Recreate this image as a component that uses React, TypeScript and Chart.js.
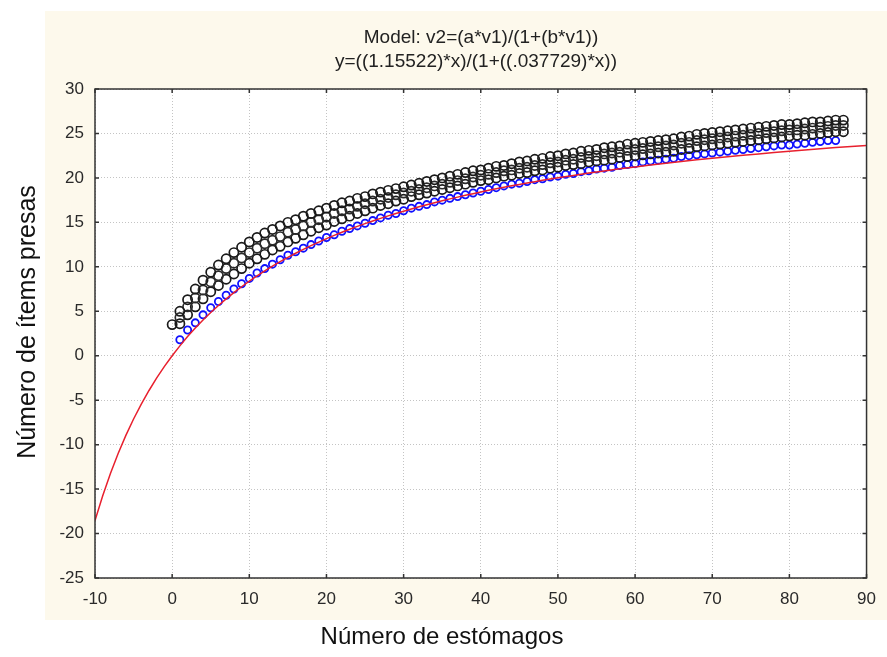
import { useEffect, useRef } from "react";
import { Chart, registerables } from "chart.js";
Chart.register(...registerables);

const titleLines = ["Model: v2=(a*v1)/(1+(b*v1))", "y=((1.15522)*x)/(1+((.037729)*x))"];
const xTitle = "Número de estómagos";
const yTitle = "Número de ítems presas";

// fitted model curve
const fitX = [-10, -9, -8, -7, -6, -5, -4, -3, -2, -1, 0, 1, 2, 3, 4, 5, 6, 7, 8, 9, 10, 11, 12, 13, 14, 15, 16, 17, 18, 19, 20, 21, 22, 23, 24, 25, 26, 27, 28, 29, 30, 31, 32, 33, 34, 35, 36, 37, 38, 39, 40, 41, 42, 43, 44, 45, 46, 47, 48, 49, 50, 52, 54, 56, 58, 60, 62, 64, 66, 68, 70, 72, 74, 76, 78, 80, 82, 84, 86, 88, 90];
const fitY = [-18.55, -15.74, -13.24, -10.99, -8.96, -7.12, -5.44, -3.91, -2.5, -1.2, 0, 1.11, 2.15, 3.11, 4.02, 4.86, 5.65, 6.4, 7.1, 7.76, 8.39, 8.98, 9.54, 10.08, 10.58, 11.07, 11.53, 11.96, 12.38, 12.78, 13.17, 13.54, 13.89, 14.23, 14.55, 14.86, 15.16, 15.45, 15.73, 16.0, 16.26, 16.51, 16.75, 16.98, 17.21, 17.42, 17.64, 17.84, 18.04, 18.23, 18.42, 18.6, 18.77, 18.94, 19.11, 19.27, 19.43, 19.58, 19.73, 19.87, 20.01, 20.28, 20.54, 20.78, 21.02, 21.24, 21.45, 21.65, 21.85, 22.03, 22.21, 22.38, 22.54, 22.7, 22.85, 23.0, 23.14, 23.28, 23.41, 23.53, 23.65];

// blue observed points, x = 1 .. 86
const blueStart = 1;
const blueY = [1.8, 2.9, 3.7, 4.6, 5.4, 6.1, 6.8, 7.5, 8.1, 8.7, 9.3, 9.8, 10.3, 10.8, 11.3, 11.7, 12.1, 12.5, 12.9, 13.3, 13.6, 14.0, 14.3, 14.6, 14.9, 15.2, 15.5, 15.8, 16.0, 16.3, 16.6, 16.8, 17.0, 17.3, 17.5, 17.7, 17.9, 18.1, 18.3, 18.5, 18.7, 18.9, 19.1, 19.3, 19.4, 19.6, 19.8, 19.9, 20.1, 20.2, 20.4, 20.5, 20.7, 20.8, 21.0, 21.1, 21.2, 21.4, 21.5, 21.6, 21.8, 21.9, 22.0, 22.1, 22.2, 22.4, 22.5, 22.6, 22.7, 22.8, 22.9, 23.0, 23.1, 23.2, 23.3, 23.4, 23.5, 23.6, 23.7, 23.7, 23.8, 23.9, 24.0, 24.1, 24.2, 24.2];

// black randomised curves: upper x = 0..87, middle/lower x = 1..87
const blackAStart = 0;
const blackA = [3.5, 5.0, 6.3, 7.5, 8.5, 9.4, 10.2, 10.9, 11.6, 12.2, 12.8, 13.3, 13.8, 14.2, 14.6, 15.0, 15.3, 15.7, 16.0, 16.3, 16.6, 16.9, 17.2, 17.4, 17.7, 17.9, 18.2, 18.4, 18.6, 18.8, 19.0, 19.2, 19.4, 19.6, 19.8, 20.0, 20.2, 20.4, 20.6, 20.8, 20.9, 21.1, 21.3, 21.4, 21.6, 21.8, 21.9, 22.1, 22.2, 22.4, 22.5, 22.7, 22.8, 23.0, 23.1, 23.2, 23.4, 23.5, 23.6, 23.8, 23.9, 24.0, 24.1, 24.2, 24.3, 24.4, 24.6, 24.7, 24.9, 25.0, 25.1, 25.2, 25.3, 25.4, 25.5, 25.6, 25.7, 25.8, 25.9, 26.0, 26.0, 26.1, 26.2, 26.3, 26.3, 26.4, 26.5, 26.5];
const blackBStart = 1;
const blackB = [4.3, 5.5, 6.5, 7.4, 8.3, 9.0, 9.8, 10.4, 11.0, 11.6, 12.1, 12.6, 13.0, 13.4, 13.9, 14.2, 14.6, 15.0, 15.3, 15.6, 16.0, 16.3, 16.5, 16.8, 17.1, 17.4, 17.6, 17.8, 18.1, 18.3, 18.5, 18.7, 18.9, 19.1, 19.3, 19.5, 19.7, 19.9, 20.1, 20.3, 20.4, 20.6, 20.8, 20.9, 21.1, 21.2, 21.4, 21.5, 21.7, 21.8, 22.0, 22.1, 22.3, 22.4, 22.5, 22.7, 22.8, 22.9, 23.1, 23.2, 23.3, 23.4, 23.5, 23.6, 23.7, 23.9, 24.0, 24.2, 24.3, 24.4, 24.5, 24.6, 24.7, 24.8, 24.9, 25.0, 25.1, 25.2, 25.3, 25.4, 25.4, 25.5, 25.6, 25.7, 25.8, 25.9, 25.9];
const blackCStart = 1;
const blackC = [3.6, 4.6, 5.5, 6.4, 7.2, 7.9, 8.6, 9.2, 9.8, 10.4, 10.9, 11.4, 11.9, 12.3, 12.8, 13.2, 13.6, 14.0, 14.4, 14.7, 15.1, 15.4, 15.7, 16.0, 16.3, 16.6, 16.9, 17.1, 17.4, 17.6, 17.9, 18.1, 18.3, 18.5, 18.7, 18.9, 19.1, 19.3, 19.5, 19.7, 19.8, 20.0, 20.2, 20.3, 20.5, 20.6, 20.8, 20.9, 21.1, 21.2, 21.4, 21.5, 21.6, 21.8, 21.9, 22.0, 22.1, 22.3, 22.4, 22.5, 22.6, 22.7, 22.8, 22.9, 23.0, 23.2, 23.3, 23.5, 23.6, 23.7, 23.8, 23.9, 24.0, 24.1, 24.2, 24.3, 24.4, 24.5, 24.6, 24.7, 24.8, 24.8, 24.9, 25.0, 25.1, 25.2, 25.2];

const xMin = -10, xMax = 90, xStep = 10;
const yMin = -25, yMax = 30, yStep = 5;

const FONT = "'Liberation Sans', Arial, sans-serif";

const toPts = (start: number, ys: number[]) => ys.map((y, i) => ({ x: start + i, y }));

const decor = {
  id: "decor",
  beforeDraw(chart: any) {
    const ctx = chart.ctx;
    ctx.save();
    ctx.fillStyle = "#ffffff";
    ctx.fillRect(0, 0, chart.width, chart.height);
    ctx.fillStyle = "#fdf9ec";
    ctx.fillRect(45, 11, chart.width - 45, 609);
    const a = chart.chartArea;
    ctx.fillStyle = "#ffffff";
    ctx.fillRect(a.left, a.top, a.right - a.left, a.bottom - a.top);
    ctx.restore();
  },
  afterDraw(chart: any) {
    const ctx = chart.ctx;
    const a = chart.chartArea;
    const xs = chart.scales.x;
    const ys = chart.scales.y;
    ctx.save();
    ctx.strokeStyle = "#333333";
    ctx.lineWidth = 1.5;
    ctx.strokeRect(a.left, a.top, a.right - a.left, a.bottom - a.top);
    ctx.beginPath();
    xs.ticks.forEach((t: any) => {
      const px = xs.getPixelForValue(t.value);
      ctx.moveTo(px, a.bottom);
      ctx.lineTo(px, a.bottom - 4);
      ctx.moveTo(px, a.top);
      ctx.lineTo(px, a.top + 4);
    });
    ys.ticks.forEach((t: any) => {
      const py = ys.getPixelForValue(t.value);
      ctx.moveTo(a.left, py);
      ctx.lineTo(a.left + 4, py);
      ctx.moveTo(a.right, py);
      ctx.lineTo(a.right - 4, py);
    });
    ctx.stroke();

    ctx.fillStyle = "#222222";
    ctx.textAlign = "center";
    ctx.textBaseline = "middle";
    ctx.font = `19px ${FONT}`;
    ctx.fillText(titleLines[0], 481, 38);
    ctx.fillText(titleLines[1], 476, 62);

    ctx.fillStyle = "#111111";
    ctx.font = `24px ${FONT}`;
    ctx.fillText(xTitle, 442, 637);
    ctx.save();
    ctx.translate(28, 322);
    ctx.rotate(-Math.PI / 2);
    ctx.font = `25px ${FONT}`;
    ctx.fillText(yTitle, 0, 0);
    ctx.restore();
    ctx.restore();
  },
};

export default function App() {
  const ref = useRef<HTMLCanvasElement | null>(null);
  useEffect(() => {
    document.body.style.margin = "0";
    const canvas = ref.current!;
    const circle = (color: string, r: number, w: number) => ({
      showLine: false,
      pointStyle: "circle",
      pointRadius: r,
      pointBorderWidth: w,
      pointBorderColor: color,
      pointBackgroundColor: "rgba(0,0,0,0)",
      borderColor: color,
      backgroundColor: "rgba(0,0,0,0)",
    });
    const chart = new Chart(canvas, {
      type: "scatter",
      data: {
        datasets: [
          {
            label: "modelo",
            data: fitX.map((x, i) => ({ x, y: fitY[i] })),
            showLine: true,
            borderColor: "#e8202e",
            borderWidth: 1.5,
            pointRadius: 0,
            tension: 0,
            fill: false,
          },
          { label: "a", data: toPts(blackAStart, blackA), ...circle("#1a1a1a", 4.6, 1.7) },
          { label: "b", data: toPts(blackBStart, blackB), ...circle("#2b2b2b", 4.6, 1.7) },
          { label: "c", data: toPts(blackCStart, blackC), ...circle("#1a1a1a", 4.6, 1.7) },
          { label: "media", data: toPts(blueStart, blueY), ...circle("#1010ff", 3.6, 1.8) },
        ],
      },
      options: {
        responsive: false,
        animation: false,
        devicePixelRatio: 1,
        layout: { padding: { top: 89, right: 10, left: 0, bottom: 0 } },
        plugins: {
          legend: { display: false },
          tooltip: { enabled: false },
          title: { display: false },
        },
        scales: {
          x: {
            type: "linear",
            min: xMin,
            max: xMax,
            ticks: {
              stepSize: xStep,
              color: "#2a2a2a",
              font: { family: FONT, size: 17 },
              padding: 11,
              maxRotation: 0,
            },
            grid: { color: "#c4c4c4", lineWidth: 1, drawTicks: false },
            border: { display: false, dash: [1, 2] },
            afterFit: (s: any) => {
              s.height = 79;
            },
          },
          y: {
            type: "linear",
            min: yMin,
            max: yMax,
            ticks: {
              stepSize: yStep,
              color: "#2a2a2a",
              font: { family: FONT, size: 17 },
              padding: 11,
            },
            grid: { color: "#c4c4c4", lineWidth: 1, drawTicks: false },
            border: { display: false, dash: [1, 2] },
            afterFit: (s: any) => {
              s.width = 95;
            },
          },
        },
      },
      plugins: [decor],
    } as any);
    return () => chart.destroy();
  }, []);
  return (
    <div style={{ width: 887, height: 657 }}>
      <canvas ref={ref} width={887} height={657} style={{ display: "block", width: 887, height: 657 }} />
    </div>
  );
}
